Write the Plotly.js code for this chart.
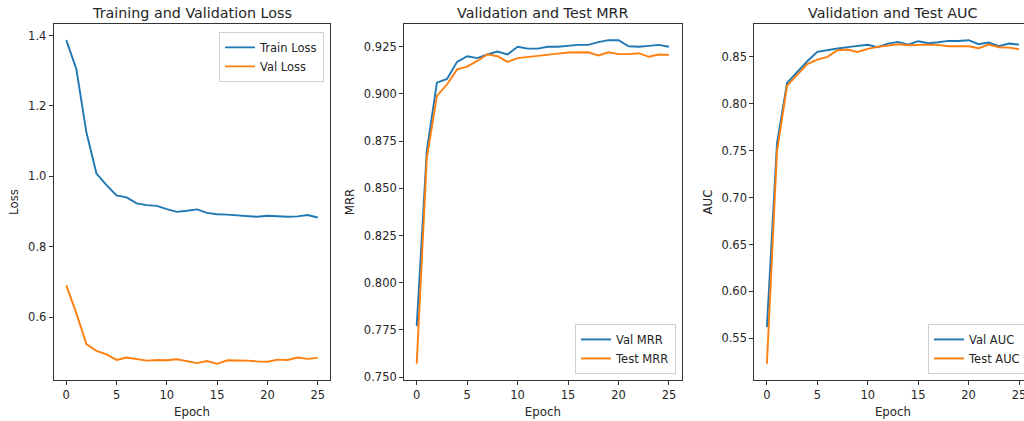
<!DOCTYPE html>
<html>
<head>
<meta charset="utf-8">
<script src="https://cdn.plot.ly/plotly-3.0.1.min.js"></script>
<style>
html,body{margin:0;padding:0;overflow:hidden;background:#fff;}
#chart{width:1040px;height:421px;}
</style>
</head>
<body>
<div id="chart"></div>
<script>
const epochs = [0,1,2,3,4,5,6,7,8,9,10,11,12,13,14,15,16,17,18,19,20,21,22,23,24,25];
const trainLoss = [1.387,1.305,1.125,1.008,0.975,0.946,0.940,0.923,0.918,0.916,0.907,0.899,0.902,0.906,0.896,0.892,0.891,0.889,0.889,0.885,0.888,0.886,0.885,0.886,0.890,0.883];
const valLoss = [0.690,0.611,0.523,0.504,0.494,0.478,0.485,0.481,0.476,0.478,0.477,0.480,0.475,0.469,0.475,0.467,0.477,0.477,0.476,0.474,0.473,0.479,0.478,0.485,0.481,0.484];
const valMRR = [0.777,0.870,0.906,0.908,0.917,0.920,0.919,0.921,0.9225,0.921,0.925,0.924,0.924,0.925,0.925,0.9255,0.926,0.926,0.9275,0.9285,0.9285,0.9253,0.925,0.9255,0.926,0.925];
const testMRR = [0.757,0.866,0.899,0.905,0.913,0.9145,0.9175,0.921,0.920,0.917,0.919,0.9197,0.9204,0.921,0.9214,0.922,0.9221,0.9221,0.9204,0.9221,0.9211,0.9211,0.9216,0.9197,0.9209,0.9207];
const valAUC = [0.562,0.758,0.822,0.8335,0.845,0.855,0.857,0.8585,0.860,0.861,0.8625,0.860,0.8638,0.8656,0.8627,0.8663,0.8642,0.8652,0.8666,0.8666,0.8674,0.8631,0.8649,0.861,0.8638,0.8627];
const testAUC = [0.523,0.749,0.819,0.831,0.842,0.8468,0.8496,0.8567,0.8574,0.8549,0.8581,0.8603,0.8613,0.8631,0.862,0.8627,0.8627,0.8624,0.861,0.861,0.861,0.8588,0.8627,0.8599,0.8595,0.8578];

const titles = ['Training and Validation Loss', 'Validation and Test MRR', 'Validation and Test AUC'];
const yTitles = ['Loss', 'MRR', 'AUC'];
const seriesNames = [['Train Loss','Val Loss'], ['Val MRR','Test MRR'], ['Val AUC','Test AUC']];
const yTickFormats = ['.1f', '.3f', '.2f'];
const yDticks = [0.2, 0.025, 0.05];

const BLUE = '#1f77b4', ORANGE = '#ff7f0e';
const FONT = 'DejaVu Sans, sans-serif';
const TXT = '#262626';
const W = 1040;
const doms = [[53.7/W, 330.3/W], [404.1/W, 681.6/W], [754.3/W, 1031.6/W]];

function padRange(arrs) {
  const all = [].concat(...arrs);
  const mn = Math.min(...all), mx = Math.max(...all);
  const p = (mx - mn) * 0.05;
  return [mn - p, mx + p];
}
const xr = padRange([epochs]);

const data = [
  [trainLoss, valLoss],
  [valMRR, testMRR],
  [valAUC, testAUC]
];

const traces = [];
const layout = {
  width: W, height: 421,
  margin: {l: 0, r: 0, t: 24, b: 41},
  paper_bgcolor: '#fff', plot_bgcolor: '#fff',
  font: {family: FONT, color: TXT, size: 11.5},
  annotations: [],
  showlegend: true
};

for (let i = 0; i < 3; i++) {
  const sfx = i === 0 ? '' : String(i + 1);
  const lg = i === 0 ? 'legend' : 'legend' + (i + 1);
  [BLUE, ORANGE].forEach((c, k) => {
    traces.push({
      x: epochs, y: data[i][k], type: 'scatter', mode: 'lines',
      name: seriesNames[i][k],
      line: {color: c, width: 1.9},
      xaxis: 'x' + sfx, yaxis: 'y' + sfx,
      legend: lg
    });
  });
  const common = {
    showgrid: false, zeroline: false, showline: true, mirror: true,
    linecolor: '#333', linewidth: 1, ticks: 'outside', ticklen: 4,
    tickcolor: '#333', tickfont: {size: 11.5, color: TXT, family: FONT},
  };
  layout['xaxis' + sfx] = Object.assign({}, common, {
    domain: doms[i], range: xr, anchor: 'y' + sfx,
    tick0: 0, dtick: 5,
    title: {text: 'Epoch', font: {size: 11.8, color: TXT, family: FONT}, standoff: 6}
  });
  layout['yaxis' + sfx] = Object.assign({}, common, {
    domain: [0, 1], range: padRange(data[i]), anchor: 'x' + sfx,
    dtick: yDticks[i], tickformat: yTickFormats[i],
    title: {text: yTitles[i], font: {size: 11.8, color: TXT, family: FONT}, standoff: 6}
  });
  layout.annotations.push({
    text: titles[i], xref: 'paper', yref: 'paper',
    x: (doms[i][0] + doms[i][1]) / 2, y: 1, xanchor: 'center', yanchor: 'bottom',
    yshift: 1, showarrow: false,
    font: {size: 14.3, color: TXT, family: FONT}
  });
}

const legendCommon = {
  bgcolor: 'rgba(255,255,255,0.8)', bordercolor: '#d0d0d0', borderwidth: 1,
  font: {size: 11.5, color: TXT, family: FONT}, tracegroupgap: 0
};
layout.legend = Object.assign({}, legendCommon, {x: 324/W, y: 0.978, xanchor: 'right', yanchor: 'top'});
layout.legend2 = Object.assign({}, legendCommon, {x: 676/W, y: 0.017, xanchor: 'right', yanchor: 'bottom'});
layout.legend3 = Object.assign({}, legendCommon, {x: 928/W, y: 0.017, xanchor: 'left', yanchor: 'bottom'});

Plotly.newPlot('chart', traces, layout, {staticPlot: true, displayModeBar: false});
</script>
</body>
</html>
